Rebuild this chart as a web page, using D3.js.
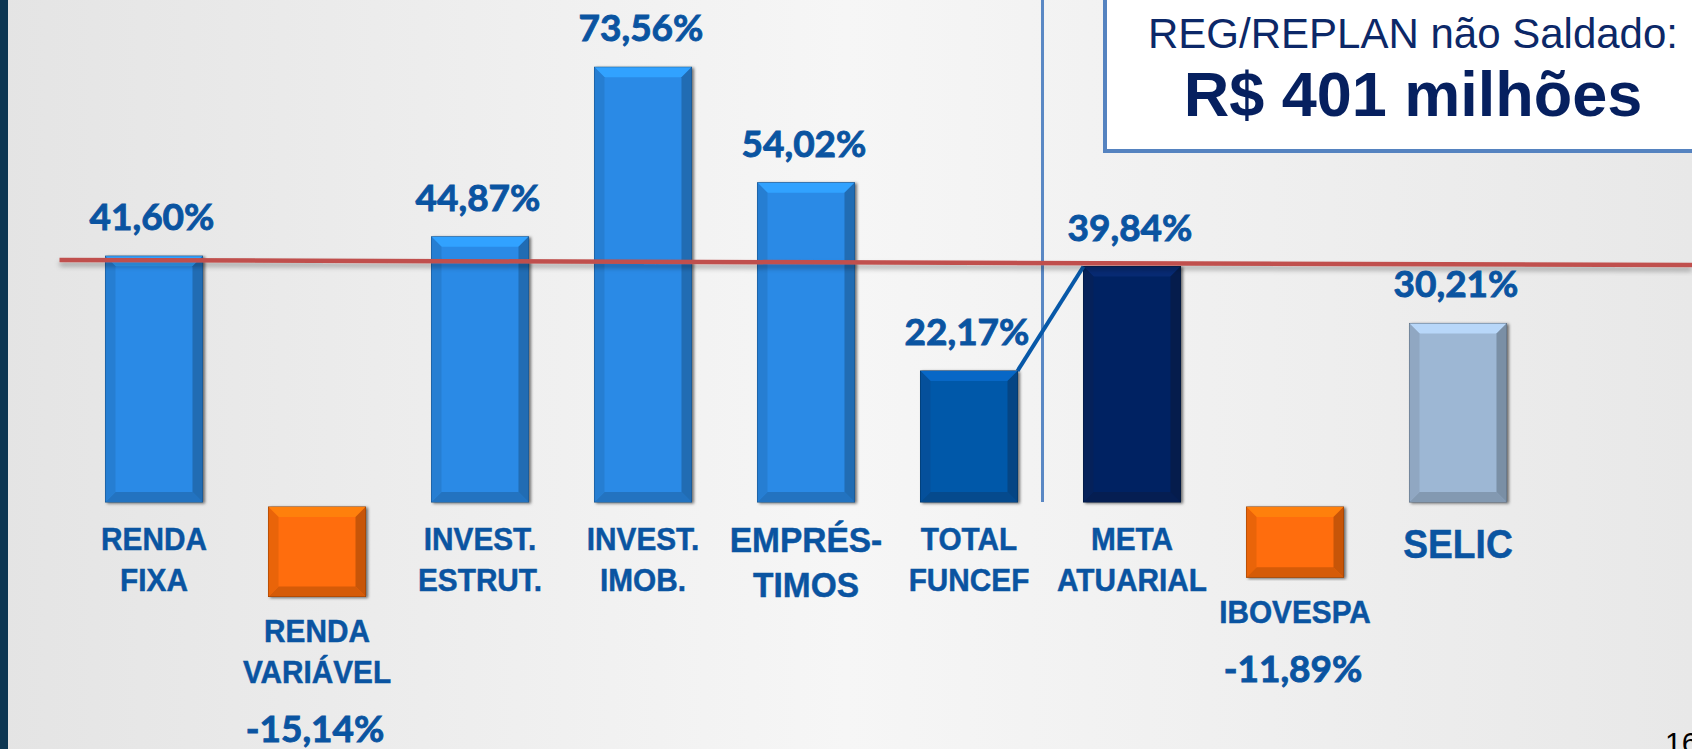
<!DOCTYPE html>
<html>
<head>
<meta charset="utf-8">
<script src="https://cdn.jsdelivr.net/npm/d3@7.9.0/dist/d3.min.js"></script>
<style>
  html, body { margin: 0; padding: 0; overflow: hidden; background: #eee; }
  svg { display: block; }
</style>
</head>
<body>
<svg id="chart" width="1692" height="749"></svg>
<script>
// data
const categories = ['RENDA FIXA', 'RENDA VARIÁVEL', 'INVEST. ESTRUT.', 'INVEST. IMOB.', 'EMPRÉSTIMOS',
    'TOTAL FUNCEF', 'META ATUARIAL', 'IBOVESPA', 'SELIC'];
const labelLines = [['RENDA', 'FIXA'], ['RENDA', 'VARIÁVEL'], ['INVEST.', 'ESTRUT.'], ['INVEST.', 'IMOB.'],
    ['EMPRÉS-', 'TIMOS'], ['TOTAL', 'FUNCEF'], ['META', 'ATUARIAL'], ['IBOVESPA'], ['SELIC']];
const returns = [41.60, -15.14, 44.87, 73.56, 54.02, 22.17, 39.84, -11.89, 30.21];
const benchmarkLevel = [40.95, 40.1]; // red line, left end / right end
const boxTitle = 'REG/REPLAN não Saldado:';
const boxValue = 'R$ 401 milhões';
const pageNumber = '16';

const barColors = {
    'RENDA FIXA': '#2a8ae6',
    'RENDA VARIÁVEL': '#ff6d0a',
    'INVEST. ESTRUT.': '#2a8ae6',
    'INVEST. IMOB.': '#2a8ae6',
    'EMPRÉSTIMOS': '#2a8ae6',
    'TOTAL FUNCEF': '#0658a9',
    'META ATUARIAL': '#062462',
    'IBOVESPA': '#ff6d0a',
    'SELIC': '#9db7d4'
};
const labelSize = { 'EMPRÉSTIMOS': 36, 'SELIC': 40 };
const textBlue = '#0a54a1';

const W = 1692, H = 749;
const axisW = 5;

const locale = d3.formatLocale({ decimal: ',', thousands: '.', grouping: [3], currency: ['R$ ', ''], minus: '-' });
const fmt = (v) => locale.format('.2f')(v) + '%';

const svg = d3.select('#chart');
const defs = svg.append('defs');

let bg = defs.append('linearGradient').attr('id', 'bg').attr('x1', 0).attr('x2', 1).attr('y1', 0).attr('y2', 0);
bg.append('stop').attr('offset', '0%').attr('stop-color', '#e4e4e4');
bg.append('stop').attr('offset', '50%').attr('stop-color', '#f6f6f6');
bg.append('stop').attr('offset', '100%').attr('stop-color', '#e8e8e8');

defs.append('filter').attr('id', 'barShadow').attr('x', '-20%').attr('y', '-5%').attr('width', '140%').attr('height', '110%')
    .append('feDropShadow').attr('dx', 2).attr('dy', 1).attr('stdDeviation', 1.5)
    .attr('flood-color', '#000').attr('flood-opacity', 0.55);
defs.append('filter').attr('id', 'lineShadow').attr('x', '-5%').attr('y', '-200%').attr('width', '110%').attr('height', '500%')
    .append('feDropShadow').attr('dx', 0).attr('dy', 4).attr('stdDeviation', 2.5)
    .attr('flood-color', '#000').attr('flood-opacity', 0.3);

svg.append('rect').attr('width', W).attr('height', H).attr('fill', 'url(#bg)');
svg.append('rect').attr('width', 8).attr('height', H).attr('fill', '#0c3652');

let x = d3.scaleBand()
    .domain(categories)
    .range([72.5, 1539.5])
    .paddingInner(0.405)
    .paddingOuter(0.2025);

let y = d3.scaleLinear()
    .domain([0, 80])
    .range([502, 502 - 80 * 5.91]);

const bw = x.bandwidth();
const data = categories.map((c, i) => ({ cat: c, value: returns[i], lines: labelLines[i] }));

// separator line + text box
const tfRight = x('TOTAL FUNCEF') + bw;
const sepX = (tfRight + x('META ATUARIAL')) / 2 - 8;
svg.append('line')
    .attr('x1', sepX).attr('x2', sepX)
    .attr('y1', 0).attr('y2', y(0))
    .attr('stroke', '#5a88c4').attr('stroke-width', 3);

svg.append('rect')
    .attr('x', 1105).attr('y', -10)
    .attr('width', 640).attr('height', 161)
    .attr('fill', '#fff')
    .attr('stroke', '#5583c0').attr('stroke-width', 4);

svg.append('text')
    .attr('x', 1413).attr('y', 48)
    .attr('text-anchor', 'middle')
    .attr('font-family', '"Liberation Sans", Arial, sans-serif')
    .attr('font-size', 42)
    .attr('fill', '#0c2868')
    .text(boxTitle);
svg.append('text')
    .attr('x', 1413).attr('y', 116)
    .attr('text-anchor', 'middle')
    .attr('font-family', '"Liberation Sans", Arial, sans-serif')
    .attr('font-weight', 'bold')
    .attr('font-size', 63)
    .attr('fill', '#06205f')
    .text(boxValue);

// bars with bevel
function bevelBar(g, x0, y0, x1, y1, color, b) {
    let c = d3.color(color);
    let poly = (pts, fill) => g.append('polygon')
        .attr('points', pts.map((p) => p.join(',')).join(' '))
        .attr('fill', fill);
    g.append('rect')
        .attr('x', x0).attr('y', y0)
        .attr('width', x1 - x0).attr('height', y1 - y0)
        .attr('fill', color)
        .attr('stroke', c.darker(1.6)).attr('stroke-width', 1)
        .attr('filter', 'url(#barShadow)');
    poly([[x0, y0], [x1, y0], [x1 - b, y0 + b], [x0 + b, y0 + b]], c.brighter(0.45));
    poly([[x0, y1], [x1, y1], [x1 - b, y1 - b], [x0 + b, y1 - b]], c.darker(0.5));
    poly([[x0, y0], [x0 + b, y0 + b], [x0 + b, y1 - b], [x0, y1]], c.darker(0.25));
    poly([[x1, y0], [x1 - b, y0 + b], [x1 - b, y1 - b], [x1, y1]], c.darker(0.7));
}

let bars = svg.append('g');
data.forEach((d) => {
    let x0 = x(d.cat), x1 = x0 + bw;
    let g = bars.append('g');
    if (d.value >= 0) {
        bevelBar(g, x0, y(d.value), x1, y(0), barColors[d.cat], 10);
    } else {
        bevelBar(g, x0, y(0) + axisW, x1, y(d.value) + axisW, barColors[d.cat], 10);
    }
});

// connector between TOTAL FUNCEF and META ATUARIAL
svg.append('line')
    .attr('x1', tfRight).attr('y1', y(returns[5]))
    .attr('x2', x('META ATUARIAL')).attr('y2', y(returns[6]))
    .attr('stroke', '#0758a8').attr('stroke-width', 4);

// red benchmark line
svg.append('line')
    .attr('x1', x(categories[0]) - 46).attr('y1', y(benchmarkLevel[0]))
    .attr('x2', W).attr('y2', y(benchmarkLevel[1]))
    .attr('stroke', '#c0504d').attr('stroke-width', 4.5)
    .attr('filter', 'url(#lineShadow)');

// zero axis
svg.append('line')
    .attr('x1', 8).attr('x2', W)
    .attr('y1', y(0) + axisW / 2).attr('y2', y(0) + axisW / 2)
    .attr('stroke', '#000').attr('stroke-width', axisW)
    .attr('filter', 'url(#lineShadow)');

// labels
let labels = svg.append('g');
data.forEach((d) => {
    let cx = x(d.cat) + bw / 2;
    let size = labelSize[d.cat] || 32;
    let start = d.value >= 0 ? y(0) + axisW + 43 : y(d.value) + axisW + 46;
    if (d.cat === 'SELIC') start += 8;
    if (d.cat === 'EMPRÉSTIMOS') start += 2;
    let step = size + 9;
    d.lines.forEach((line, i) => {
        labels.append('text')
            .attr('transform', `translate(${cx},${start + i * step}) scale(0.93,1)`)
            .attr('text-anchor', 'middle')
            .attr('font-family', '"Liberation Sans", Arial, sans-serif')
            .attr('font-weight', 'bold')
            .attr('font-size', size)
            .attr('fill', textBlue)
            .attr('stroke', textBlue).attr('stroke-width', 0.5)
            .text(line);
    });
    let vy = d.value >= 0 ? y(d.value) - 26 : start + (d.lines.length - 1) * step + 59;
    labels.append('text')
        .attr('x', cx - 2).attr('y', vy)
        .attr('text-anchor', 'middle')
        .attr('font-family', 'Lato, "Open Sans", sans-serif')
        .attr('font-weight', 'bold')
        .attr('font-size', 37)
        .attr('fill', textBlue)
        .attr('stroke', textBlue).attr('stroke-width', 0.9)
        .text(fmt(d.value));
});

svg.append('text')
    .attr('x', 1665).attr('y', 753)
    .attr('font-family', '"Liberation Sans", Arial, sans-serif')
    .attr('font-size', 30)
    .attr('fill', '#000')
    .text(pageNumber);
</script>
</body>
</html>
